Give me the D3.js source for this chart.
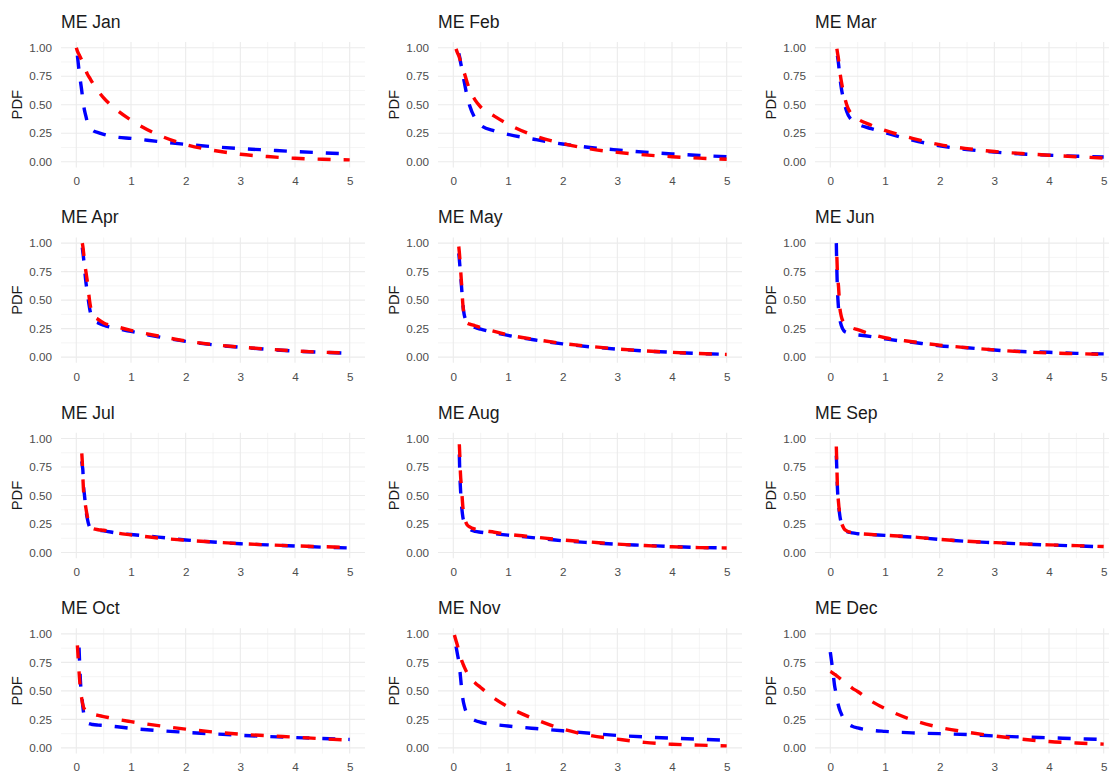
<!DOCTYPE html>
<html>
<head>
<meta charset="utf-8">
<script src="https://cdn.jsdelivr.net/npm/d3@7"></script>
<style>
  body { margin: 0; background: #fff; }
  svg { display: block; font-family: "Liberation Sans", Arial, sans-serif; }
</style>
</head>
<body>
<div id="chart"></div>
<script>
// x positions where the two densities were read
var xGrid = [0, 0.02, 0.05, 0.08, 0.1, 0.11, 0.12, 0.13, 0.15, 0.175, 0.2, 0.25, 0.3,
             0.4, 0.5, 0.75, 1, 1.5, 2, 2.5, 3, 3.5, 4, 4.5, 5];

var months = ["Jan", "Feb", "Mar", "Apr", "May", "Jun", "Jul", "Aug", "Sep", "Oct", "Nov", "Dec"];

// red = first fit, blue = second fit (null where the pdf is above 1)
var janRed  = [1.0, 0.97, 0.94, 0.91, 0.89, 0.88, 0.87, 0.86, 0.83, 0.80, 0.77, 0.73, 0.69, 0.62, 0.56, 0.45, 0.365, 0.235, 0.15, 0.10, 0.065, 0.045, 0.03, 0.021, 0.016];
var janBlue = [null, 0.93, 0.80, 0.69, 0.62, 0.58, 0.54, 0.51, 0.45, 0.40, 0.35, 0.30, 0.275, 0.255, 0.24, 0.215, 0.205, 0.177, 0.152, 0.132, 0.115, 0.102, 0.089, 0.078, 0.067];
var febRed  = [null, null, 0.99, 0.95, 0.93, 0.915, 0.90, 0.885, 0.85, 0.815, 0.78, 0.70, 0.63, 0.54, 0.48, 0.40, 0.33, 0.225, 0.16, 0.112, 0.082, 0.06, 0.044, 0.031, 0.021];
var febBlue = [null, null, null, null, 0.95, 0.93, 0.91, 0.88, 0.83, 0.76, 0.70, 0.58, 0.49, 0.38, 0.32, 0.27, 0.24, 0.195, 0.155, 0.125, 0.103, 0.084, 0.068, 0.055, 0.044];
var marRed  = [null, null, null, null, null, null, 0.99, 0.96, 0.90, 0.79, 0.71, 0.59, 0.50, 0.41, 0.375, 0.32, 0.275, 0.205, 0.15, 0.115, 0.089, 0.072, 0.057, 0.044, 0.032];
var marBlue = [null, null, null, null, null, null, null, 0.93, 0.86, 0.74, 0.65, 0.53, 0.44, 0.36, 0.33, 0.29, 0.255, 0.19, 0.14, 0.107, 0.084, 0.068, 0.057, 0.048, 0.041];
var aprRed  = [null, null, null, null, null, 1.0, 0.97, 0.93, 0.84, 0.75, 0.67, 0.47, 0.37, 0.33, 0.30, 0.265, 0.235, 0.185, 0.142, 0.11, 0.088, 0.07, 0.054, 0.043, 0.035];
var aprBlue = [null, null, null, null, null, 0.96, 0.92, 0.88, 0.78, 0.66, 0.57, 0.41, 0.33, 0.30, 0.28, 0.25, 0.225, 0.178, 0.138, 0.108, 0.086, 0.068, 0.053, 0.042, 0.034];
var mayRed  = [null, null, null, null, 0.97, 0.92, 0.86, 0.79, 0.65, 0.46, 0.36, 0.30, 0.29, 0.275, 0.26, 0.225, 0.195, 0.155, 0.12, 0.094, 0.072, 0.055, 0.042, 0.031, 0.023];
var mayBlue = [null, null, null, null, 0.91, 0.86, 0.80, 0.74, 0.62, 0.46, 0.37, 0.31, 0.285, 0.26, 0.245, 0.215, 0.19, 0.15, 0.116, 0.09, 0.07, 0.054, 0.042, 0.031, 0.024];
var junRed  = [null, null, null, null, null, null, 0.88, 0.74, 0.62, 0.43, 0.36, 0.30, 0.28, 0.255, 0.24, 0.20, 0.17, 0.135, 0.105, 0.083, 0.063, 0.047, 0.036, 0.03, 0.024];
var junBlue = [null, null, null, null, null, 1.0, 0.76, 0.60, 0.43, 0.33, 0.28, 0.23, 0.215, 0.20, 0.195, 0.18, 0.16, 0.13, 0.10, 0.082, 0.062, 0.049, 0.042, 0.033, 0.028];
var julRed  = [null, null, null, null, 0.87, 0.79, 0.66, 0.56, 0.47, 0.39, 0.32, 0.24, 0.21, 0.20, 0.195, 0.17, 0.155, 0.127, 0.107, 0.092, 0.078, 0.067, 0.058, 0.051, 0.044];
var julBlue = [null, null, null, null, 0.80, 0.76, 0.72, 0.60, 0.50, 0.38, 0.30, 0.22, 0.205, 0.195, 0.19, 0.17, 0.158, 0.135, 0.11, 0.092, 0.077, 0.067, 0.057, 0.047, 0.04];
var augRed  = [null, null, null, null, null, 0.95, 0.84, 0.70, 0.57, 0.40, 0.32, 0.245, 0.225, 0.205, 0.195, 0.178, 0.16, 0.135, 0.11, 0.092, 0.074, 0.061, 0.05, 0.043, 0.04];
var augBlue = [null, null, null, null, null, 0.86, 0.68, 0.57, 0.42, 0.31, 0.27, 0.23, 0.205, 0.185, 0.178, 0.165, 0.152, 0.128, 0.103, 0.086, 0.072, 0.063, 0.052, 0.044, 0.04];
var sepRed  = [null, null, null, null, null, 0.93, 0.75, 0.58, 0.44, 0.33, 0.27, 0.21, 0.19, 0.175, 0.168, 0.158, 0.151, 0.137, 0.115, 0.099, 0.087, 0.076, 0.067, 0.06, 0.052];
var sepBlue = [null, null, null, null, null, 0.85, 0.72, 0.57, 0.43, 0.32, 0.26, 0.205, 0.185, 0.172, 0.165, 0.157, 0.15, 0.135, 0.115, 0.098, 0.086, 0.075, 0.066, 0.058, 0.05];
var octRed  = [null, 0.90, 0.67, 0.49, 0.43, 0.40, 0.38, 0.36, 0.34, 0.325, 0.315, 0.30, 0.295, 0.285, 0.275, 0.25, 0.23, 0.195, 0.165, 0.14, 0.12, 0.107, 0.094, 0.08, 0.068];
var octBlue = [null, null, 0.88, 0.55, 0.46, 0.41, 0.36, 0.32, 0.27, 0.24, 0.22, 0.21, 0.205, 0.20, 0.197, 0.185, 0.172, 0.152, 0.137, 0.123, 0.111, 0.10, 0.091, 0.082, 0.074];
var novRed  = [null, 0.99, 0.94, 0.89, 0.85, 0.84, 0.82, 0.80, 0.77, 0.74, 0.71, 0.66, 0.62, 0.57, 0.53, 0.435, 0.36, 0.25, 0.165, 0.11, 0.077, 0.048, 0.032, 0.024, 0.018];
var novBlue = [null, null, 0.89, 0.81, 0.76, 0.72, 0.68, 0.63, 0.53, 0.43, 0.37, 0.30, 0.27, 0.24, 0.225, 0.205, 0.192, 0.17, 0.15, 0.128, 0.109, 0.096, 0.085, 0.076, 0.068];
var decRed  = [0.67, 0.665, 0.655, 0.645, 0.64, 0.635, 0.63, 0.627, 0.62, 0.61, 0.60, 0.585, 0.565, 0.525, 0.495, 0.41, 0.345, 0.245, 0.18, 0.138, 0.105, 0.077, 0.056, 0.043, 0.033];
var decBlue = [0.84, 0.77, 0.66, 0.54, 0.49, 0.46, 0.43, 0.41, 0.37, 0.33, 0.30, 0.25, 0.22, 0.19, 0.175, 0.155, 0.145, 0.132, 0.125, 0.117, 0.105, 0.096, 0.089, 0.081, 0.074];

var xTicks = [0, 1, 2, 3, 4, 5];
var xMinor = [0.5, 1.5, 2.5, 3.5, 4.5];
var yTicks = [0, 0.25, 0.5, 0.75, 1];
var yMinor = [0.125, 0.375, 0.625, 0.875];

var redAll = [janRed, febRed, marRed, aprRed, mayRed, junRed, julRed, augRed, sepRed, octRed, novRed, decRed];
var blueAll = [janBlue, febBlue, marBlue, aprBlue, mayBlue, junBlue, julBlue, augBlue, sepBlue, octBlue, novBlue, decBlue];

var width = 1109,
    height = 774;

var svg = d3.select("#chart").append("svg")
    .attr("width", width)
    .attr("height", height);

// panel geometry
var colLeft = [61, 438, 815];
var panelW = 304;
var panelH = 125.4;
var firstTop = 42;
var rowStep = 195.4;

months.forEach(function (m, i) {
    var col = i % 3,
        row = Math.floor(i / 3);
    var left = colLeft[col],
        top = firstTop + row * rowStep;

    var x = d3.scaleLinear().domain([-0.28, 5.28]).range([left, left + panelW]);
    var y = d3.scaleLinear().domain([-0.05, 1.05]).range([top + panelH, top]);

    var g = svg.append("g");

    // grid
    g.selectAll(".vminor").data(xMinor).enter().append("line")
        .attr("x1", function (d) { return x(d); }).attr("x2", function (d) { return x(d); })
        .attr("y1", top).attr("y2", top + panelH)
        .style("stroke", "#ebebeb").style("stroke-width", 0.55);
    g.selectAll(".hminor").data(yMinor).enter().append("line")
        .attr("x1", left).attr("x2", left + panelW)
        .attr("y1", function (d) { return y(d); }).attr("y2", function (d) { return y(d); })
        .style("stroke", "#ebebeb").style("stroke-width", 0.55);
    g.selectAll(".vmajor").data(xTicks).enter().append("line")
        .attr("x1", function (d) { return x(d); }).attr("x2", function (d) { return x(d); })
        .attr("y1", top).attr("y2", top + panelH)
        .style("stroke", "#ebebeb").style("stroke-width", 1.1);
    g.selectAll(".hmajor").data(yTicks).enter().append("line")
        .attr("x1", left).attr("x2", left + panelW)
        .attr("y1", function (d) { return y(d); }).attr("y2", function (d) { return y(d); })
        .style("stroke", "#ebebeb").style("stroke-width", 1.1);

    // axes (no ticks, no domain line)
    var xAxis = g.append("g")
        .attr("transform", "translate(0," + (top + panelH) + ")")
        .call(d3.axisBottom(x).tickValues(xTicks).tickSize(0).tickPadding(9.5).tickFormat(d3.format("d")));
    var yAxis = g.append("g")
        .attr("transform", "translate(" + left + ",0)")
        .call(d3.axisLeft(y).tickValues(yTicks).tickSize(0).tickPadding(9).tickFormat(d3.format(".2f")));
    [xAxis, yAxis].forEach(function (a) {
        a.select(".domain").remove();
        a.selectAll("text")
            .style("font-family", "'Liberation Sans', Arial, sans-serif")
            .style("font-size", "11.7px")
            .style("fill", "#4d4d4d");
    });

    // title
    g.append("text")
        .attr("x", left)
        .attr("y", top - 14)
        .style("font-size", "17.6px")
        .style("fill", "#1a1a1a")
        .text("ME " + m);

    // y axis title
    g.append("text")
        .attr("transform", "translate(" + (left - 39) + "," + (top + panelH / 2) + ") rotate(-90)")
        .attr("text-anchor", "middle")
        .style("font-size", "14.7px")
        .style("fill", "#1a1a1a")
        .text("PDF");

    var line = d3.line()
        .defined(function (d) { return d[1] != null; })
        .x(function (d) { return x(d[0]); })
        .y(function (d) { return y(d[1]); })
        .curve(d3.curveMonotoneX);

    function pairs(vals) {
        return xGrid.map(function (xv, k) { return [xv, vals[k]]; });
    }

    g.append("path")
        .attr("d", line(pairs(blueAll[i])))
        .style("fill", "none")
        .style("stroke", "#0000ff")
        .style("stroke-width", 3.4)
        .style("stroke-dasharray", "13,13");
    g.append("path")
        .attr("d", line(pairs(redAll[i])))
        .style("fill", "none")
        .style("stroke", "#ff0000")
        .style("stroke-width", 3.4)
        .style("stroke-dasharray", "13,13");
});
</script>
</body>
</html>
